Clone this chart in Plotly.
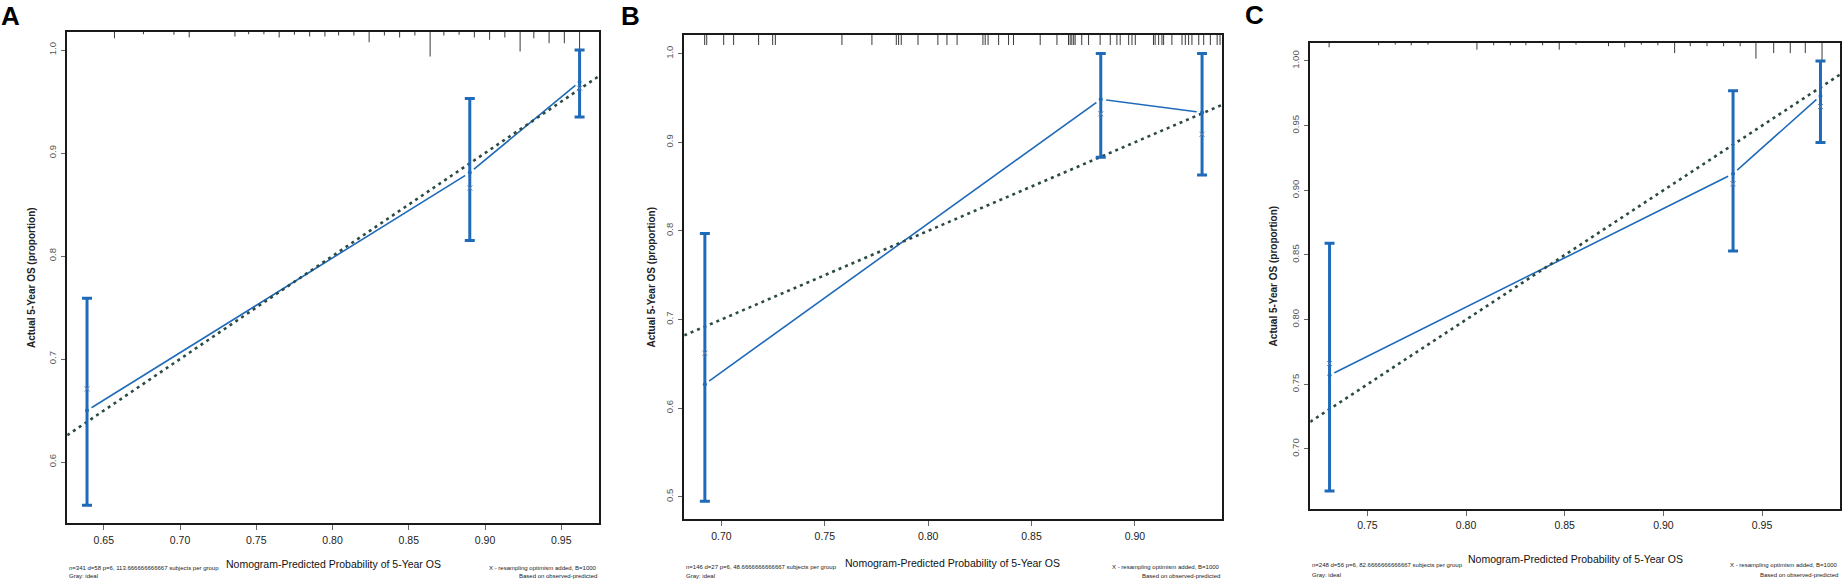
import plotly.graph_objects as go

W, H = 1844, 584

# ---- panel A ----
a_pred = [0.639, 0.890, 0.962]
a_obs = [0.650, 0.881, 0.969]
a_lo = [0.558, 0.815, 0.935]
a_hi = [0.759, 0.953, 1.000]
a_corr = [0.671, 0.866, 0.963]
a_rug = [0.657, 0.676, 0.696, 0.706, 0.736, 0.745, 0.755, 0.765, 0.775, 0.785,
         0.795, 0.804, 0.814, 0.824, 0.834, 0.844, 0.854, 0.864, 0.873, 0.883,
         0.893, 0.903, 0.913, 0.923, 0.932, 0.942, 0.952, 0.962]
a_rug_h = [0.27, 0.11, 0.13, 0.24, 0.2, 0.11, 0.11, 0.24, 0.13, 0.2,
           0.2, 0.16, 0.16, 0.43, 0.16, 0.24, 0.16, 1.0, 0.16, 0.13,
           0.24, 0.33, 0.24, 0.8, 0.27, 0.47, 0.47, 0.8]
a_xticks = [0.65, 0.70, 0.75, 0.80, 0.85, 0.90, 0.95]
a_yticks = [0.6, 0.7, 0.8, 0.9, 1.0]
a_note = "n=341 d=58 p=6, 113.666666666667 subjects per group"

# ---- panel B ----
b_pred = [0.692, 0.8835, 0.9325]
b_obs = [0.627, 0.9485, 0.9335]
b_lo = [0.495, 0.883, 0.863]
b_hi = [0.797, 1.000, 1.000]
b_corr = [0.662, 0.932, 0.909]
b_rug = [0.6919, 0.6929, 0.7011, 0.7059, 0.7180, 0.7248, 0.7261, 0.7583, 0.7728,
         0.7846, 0.7857, 0.7870, 0.7951, 0.8047, 0.8091, 0.8140, 0.8265, 0.8276,
         0.8290, 0.8341, 0.8389, 0.8413, 0.8542, 0.8623, 0.8679, 0.8687, 0.8695,
         0.8704, 0.8711, 0.8743, 0.8776, 0.8832, 0.8881, 0.8913, 0.8929, 0.8970,
         0.8986, 0.9002, 0.9090, 0.9098, 0.9115, 0.9131, 0.9139, 0.9179, 0.9228,
         0.9244, 0.9260, 0.9276, 0.9309, 0.9333, 0.9365, 0.9398, 0.9412]
b_rug_h = [1.0] * len(b_rug)
b_xticks = [0.70, 0.75, 0.80, 0.85, 0.90]
b_yticks = [0.5, 0.6, 0.7, 0.8, 0.9, 1.0]
b_note = "n=146 d=27 p=6, 48.6666666666667 subjects per group"

# ---- panel C ----
c_pred = [0.7308, 0.9353, 0.9796]
c_obs = [0.757, 0.9128, 0.973]
c_lo = [0.6676, 0.853, 0.937]
c_hi = [0.859, 0.977, 1.000]
c_corr = [0.766, 0.905, 0.9647]
c_rug = [0.7306, 0.7557, 0.7641, 0.7722, 0.7807, 0.8055, 0.8140, 0.8224, 0.8303,
         0.8388, 0.8472, 0.8557, 0.8722, 0.8804, 0.8888, 0.8972, 0.9057, 0.9136,
         0.9221, 0.9305, 0.9389, 0.9469, 0.9559, 0.9643, 0.9719, 0.9804]
c_rug_h = [0.24, 0.13, 0.09, 0.13, 0.09, 0.37, 0.13, 0.13, 0.13, 0.13, 0.37,
           0.09, 0.18, 0.24, 0.09, 0.13, 0.56, 0.18, 0.18, 0.18, 0.18, 0.87,
           0.56, 0.56, 0.56, 1.0]
c_xticks = [0.75, 0.80, 0.85, 0.90, 0.95]
c_yticks = [0.70, 0.75, 0.80, 0.85, 0.90, 0.95, 1.00]
c_note = "n=248 d=56 p=6, 82.6666666666667 subjects per group"

x_title = "Nomogram-Predicted Probability of 5-Year OS"
y_title = "Actual 5-Year OS (proportion)"
note_r1 = "X - resampling optimism added, B=1000"
note_r2 = "Based on observed-predicted"

BLUE = "#1f6bb9"
IDEAL = "#2b4a44"
NARROW = "Liberation Sans Narrow, Liberation Sans, Arial, sans-serif"
ARIAL = "Liberation Sans, Arial, sans-serif"

# pixel boxes of each panel: left, right, top, bottom
panels = [
    dict(tag="A", pred=a_pred, obs=a_obs, lo=a_lo, hi=a_hi, corr=a_corr, rug=a_rug, rug_h=a_rug_h,
         xt=a_xticks, yt=a_yticks, yfmt=".1f", note=a_note,
         box=(67.2, 599.4, 31.5, 523.3), xr=[0.626, 0.975], yr=[0.5405, 1.018], rug_px=25,
         letter=(10, 16), ytitle_x=31.6, xtitle_y=564, note_y=(568.3, 576)),
    dict(tag="B", pred=b_pred, obs=b_obs, lo=b_lo, hi=b_hi, corr=b_corr, rug=b_rug, rug_h=b_rug_h,
         xt=b_xticks, yt=b_yticks, yfmt=".1f", note=b_note,
         box=(684.2, 1221.7, 35, 519.3), xr=[0.682, 0.942], yr=[0.4745, 1.021], rug_px=10,
         letter=(630, 16), ytitle_x=651.4, xtitle_y=562.7, note_y=(567.3, 576)),
    dict(tag="C", pred=c_pred, obs=c_obs, lo=c_lo, hi=c_hi, corr=c_corr, rug=c_rug, rug_h=c_rug_h,
         xt=c_xticks, yt=c_yticks, yfmt=".2f", note=c_note,
         box=(1310.2, 1840, 43, 509), xr=[0.721, 0.9895], yr=[0.6536, 1.0139], rug_px=18,
         letter=(1254.6, 15), ytitle_x=1273.4, xtitle_y=559.3, note_y=(565.3, 575.3)),
]

fig = go.Figure()
annotations = []

def py(px):
    return 1 - px / H

for i, p in enumerate(panels, start=1):
    sfx = "" if i == 1 else str(i)
    xa, ya = "x" + sfx, "y" + sfx
    left, right, top, bottom = p["box"]

    # rug along the top edge
    ytop = p["yr"][1]
    unit = (p["yr"][1] - p["yr"][0]) / (bottom - top)
    rx, ry = [], []
    for v, h in zip(p["rug"], p["rug_h"]):
        rx += [v, v, None]
        ry += [ytop, ytop - h * p["rug_px"] * unit, None]
    fig.add_trace(go.Scatter(x=rx, y=ry, mode="lines", xaxis=xa, yaxis=ya,
                             line=dict(color="#3a3a3a", width=1), hoverinfo="skip"))

    # apparent calibration line with gaps at the points (type="b")
    fig.add_trace(go.Scatter(x=p["pred"], y=p["obs"], mode="lines", xaxis=xa, yaxis=ya,
                             line=dict(color=BLUE, width=1.6)))
    fig.add_trace(go.Scatter(x=p["pred"], y=p["obs"], mode="markers", xaxis=xa, yaxis=ya,
                             marker=dict(color="white", size=11), hoverinfo="skip"))

    # ideal line
    fig.add_trace(go.Scatter(x=p["xr"], y=p["xr"], mode="lines", xaxis=xa, yaxis=ya,
                             line=dict(color=IDEAL, width=2.6, dash="3px,4px")))

    # observed with CI
    fig.add_trace(go.Scatter(
        x=p["pred"], y=p["obs"], mode="markers", xaxis=xa, yaxis=ya,
        marker=dict(color=BLUE, size=4),
        error_y=dict(type="data", symmetric=False,
                     array=[h - o for h, o in zip(p["hi"], p["obs"])],
                     arrayminus=[o - l for o, l in zip(p["obs"], p["lo"])],
                     color=BLUE, thickness=3, width=5)))

    # optimism-corrected
    fig.add_trace(go.Scatter(x=p["pred"], y=p["corr"], mode="markers", xaxis=xa, yaxis=ya,
                             marker=dict(symbol="x-thin", size=5, color="#5b7fae",
                                         line=dict(color="#5b7fae", width=1))))

    axis_common = dict(showline=True, linecolor="#1a1a1a", linewidth=1.5, mirror=True,
                       showgrid=False, zeroline=False, ticks="outside", ticklen=5,
                       tickwidth=1, tickcolor="#666")
    fig.update_layout(**{
        "xaxis" + sfx: dict(axis_common, domain=[left / W, right / W], range=p["xr"],
                            anchor=ya, tickvals=p["xt"], tickformat=".2f",
                            ticklabelstandoff=1,
                            tickfont=dict(family=NARROW, size=10.5, color="#222")),
        "yaxis" + sfx: dict(axis_common, domain=[py(bottom), py(top)], range=p["yr"],
                            anchor=xa, tickvals=p["yt"], tickformat=p["yfmt"],
                            tickangle=-90, ticklen=4, ticklabelstandoff=2,
                            tickfont=dict(family=ARIAL, size=9.5, color="#555")),
    })

    lx, ly = p["letter"]
    annotations.append(dict(text="<b>%s</b>" % p["tag"], x=lx / W, y=py(ly),
                            font=dict(family=ARIAL, size=26, color="black")))
    annotations.append(dict(text="<b>%s</b>" % y_title, x=p["ytitle_x"] / W,
                            y=py((top + bottom) / 2), textangle=-90,
                            font=dict(family=ARIAL, size=10, color="#222")))
    annotations.append(dict(text=x_title, x=(left + right) / 2 / W, y=py(p["xtitle_y"]),
                            font=dict(family=NARROW, size=10.5, color="#111")))
    small = dict(family=NARROW, size=6, color="#222")
    n1, n2 = p["note_y"]
    annotations += [
        dict(text=p["note"], x=left / W, y=py(n1), xanchor="left", font=small),
        dict(text="Gray: ideal", x=left / W, y=py(n2), xanchor="left", font=small),
        dict(text=note_r1, x=right / W, y=py(n1), xanchor="right", font=small),
        dict(text=note_r2, x=right / W, y=py(n2), xanchor="right", font=small),
    ]

for a in annotations:
    a.setdefault("xref", "paper")
    a.setdefault("yref", "paper")
    a.setdefault("xanchor", "center")
    a.setdefault("yanchor", "middle")
    a.setdefault("showarrow", False)

fig.update_layout(width=W, height=H, autosize=False, showlegend=False,
                  margin=dict(l=0, r=0, t=0, b=0),
                  paper_bgcolor="white", plot_bgcolor="white",
                  annotations=annotations)

# drop the default page margin so the figure sits at the window's corner
fig.write_html("out.html", config={"displayModeBar": False},
               post_script="document.body.style.margin='0';document.body.style.overflow='hidden';")
